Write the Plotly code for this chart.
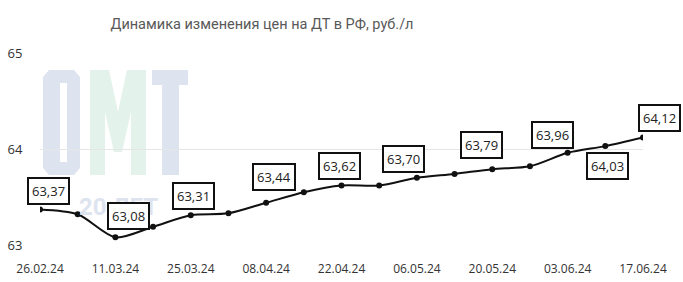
import plotly.graph_objects as go

dates = ["26.02.24", "04.03.24", "11.03.24", "18.03.24", "25.03.24", "01.04.24",
         "08.04.24", "15.04.24", "22.04.24", "29.04.24", "06.05.24", "13.05.24",
         "20.05.24", "27.05.24", "03.06.24", "10.06.24", "17.06.24"]
prices = [63.37, 63.32, 63.08, 63.19, 63.31, 63.33, 63.44, 63.55, 63.62, 63.62,
          63.70, 63.74, 63.79, 63.82, 63.96, 64.03, 64.12]
labeled = [0, 2, 4, 6, 8, 10, 12, 14, 15, 16]
label_shift = {0: (8, 18), 2: (13, 21), 4: (3, 19), 6: (8, 26), 8: (-2, 19),
               10: (-13, 19), 12: (-11, 24), 14: (-15, 18), 15: (2, -20), 16: (16, 19)}
yticks = [63, 64, 65]
title = "Динамика изменения цен на ДТ в РФ, руб./л"
watermark_sub = "20 ЛЕТ"

x = list(range(len(dates)))

W, H = 683, 282
L, R, T, B = 40, 40, 53, 37


def px(v):
    return (v - L) / (W - L - R)


def py(v):
    return (H - B - v) / (H - T - B)


def rect(x0, y0, x1, y1, color):
    return dict(type="rect", xref="paper", yref="paper", x0=px(x0), x1=px(x1),
                y0=py(y1), y1=py(y0), fillcolor=color, line=dict(width=0), layer="below")


def poly(points, color):
    d = "M " + " L ".join(f"{px(a):.5f},{py(b):.5f}" for a, b in points) + " Z"
    return dict(type="path", xref="paper", yref="paper", path=d, fillcolor=color,
                line=dict(width=0), layer="below")


blue = "#dde3ef"
green = "#e3f2ea"
shapes = [
    # O
    poly([(49, 70), (74, 70), (80, 77), (80, 168), (74, 175), (49, 175), (43, 168), (43, 77)], blue),
    rect(60, 83, 67, 162, "white"),
    # M
    poly([(90, 175), (90, 70), (109, 70), (118, 112), (127, 70), (146, 70), (146, 175),
          (131, 175), (131, 112), (122, 152), (114, 152), (105, 112), (105, 175)], green),
    # T
    rect(152, 70, 188, 85, blue), rect(162, 70, 179, 175, blue),
]

fig = go.Figure()
fig.add_trace(go.Scatter(
    x=x, y=prices, mode="lines+markers",
    line=dict(color="#111111", width=2, shape="spline", smoothing=0.8),
    marker=dict(color="#111111", size=6),
    hoverinfo="skip", showlegend=False,
))

annotations = [dict(
    xref="paper", yref="paper", x=px(118), y=py(207), xanchor="center", yanchor="middle",
    text=f"<b>{watermark_sub}</b>",
    font=dict(family="Roboto", size=24, color=blue),
    showarrow=False,
)]

for i in labeled:
    dx, dy = label_shift[i]
    annotations.append(dict(
        x=x[i], y=prices[i], xref="x", yref="y",
        text=f"{prices[i]:.2f}".replace(".", ","),
        showarrow=False, xshift=dx, yshift=dy,
        font=dict(family="Open Sans", size=13, color="#222222"),
        bgcolor="white", bordercolor="#111111", borderwidth=2, borderpad=3,
    ))

fig.update_layout(
    width=W, height=H,
    margin=dict(l=L, r=R, t=T, b=B),
    paper_bgcolor="white", plot_bgcolor="rgba(0,0,0,0)",
    title=dict(text=title, x=262 / W, xanchor="center", y=1 - 24 / H, yanchor="middle",
               font=dict(family="Roboto", size=14.5, color="#595959")),
    annotations=annotations, shapes=shapes,
    font=dict(family="Open Sans", size=12, color="#333333"),
)
fig.update_xaxes(
    range=[0, 16], tickvals=x[::2], ticktext=dates[::2],
    showgrid=False, zeroline=False, showline=False, automargin=False,
    ticks="outside", ticklen=13, tickcolor="rgba(0,0,0,0)",
    tickfont=dict(family="Open Sans", size=12, color="#333333"),
)
fig.update_yaxes(
    range=[63, 65], tickvals=yticks, ticktext=[str(v) for v in yticks],
    showgrid=True, gridcolor="#e6e6e6", gridwidth=1, zeroline=False, showline=False,
    automargin=False,
    ticks="outside", ticklen=14, tickcolor="rgba(0,0,0,0)",
    tickfont=dict(family="Open Sans", size=13, color="#333333"),
)

fig.write_html("out.html")
